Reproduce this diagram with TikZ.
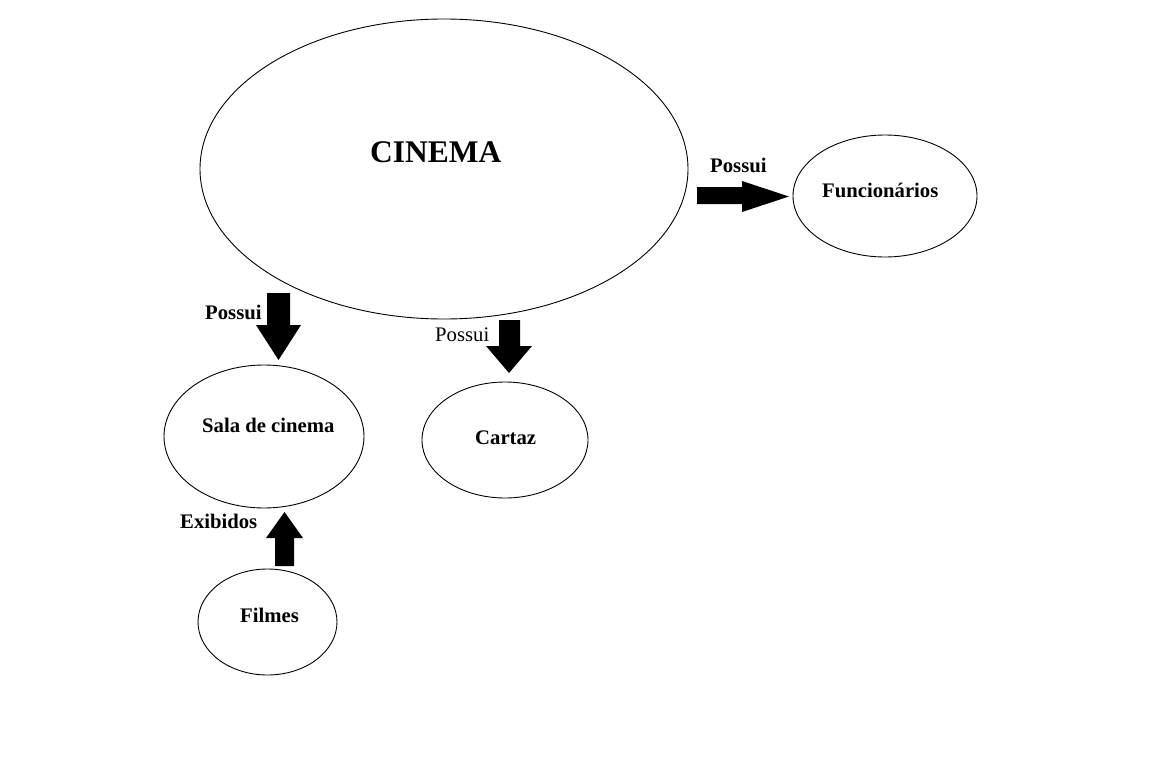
\documentclass[tikz,border=0pt]{standalone}
\usepackage{fontspec}
\setmainfont{Liberation Serif}
\usetikzlibrary{shapes.geometric}
\begin{document}
\begin{tikzpicture}[x=1pt,y=-1pt,
  oval/.style={draw=black,line width=0.9pt,ellipse,inner sep=0pt},
  lbl/.style={anchor=base west,inner sep=0pt,font=\fontsize{20.7}{24}\selectfont\bfseries},
  lblr/.style={anchor=base west,inner sep=0pt,font=\fontsize{20.7}{24}\selectfont},
  bigarrow/.style={fill=black}]
\useasboundingbox (0,0) rectangle (1160,784);
% ellipses
\node[oval,minimum width=488pt,minimum height=300pt] (cinema) at (444,169) {};
\node[oval,minimum width=184pt,minimum height=122pt] (func) at (885,196) {};
\node[oval,minimum width=200pt,minimum height=143pt] (sala) at (264,436.5) {};
\node[oval,minimum width=166pt,minimum height=116pt] (cartaz) at (505,440) {};
\node[oval,minimum width=139pt,minimum height=106pt] (filmes) at (267.5,622) {};
% texts
\node[anchor=base west,inner sep=0pt,font=\fontsize{31.5}{36}\selectfont\bfseries] (tcinema) at (370,162) {CINEMA};
\node[lbl] (tfunc) at (822,197) {Funcionários};
\node[lbl] (tsala) at (202,432) {Sala de cinema};
\node[lbl] (tcartaz) at (475,444) {Cartaz};
\node[lbl] (tfilmes) at (240,622) {Filmes};
\node[lbl] (tposs1) at (710,172) {Possui};
\node[lbl] (tposs2) at (205,319) {Possui};
\node[lblr] (tposs3) at (435,341) {Possui};
\node[lbl] (texib) at (180,528) {Exibidos};
% block arrows
\fill[bigarrow] (697,187) -- (742,187) -- (742,181) -- (789,196.5) -- (742,212) -- (742,204) -- (697,204) -- cycle;
\fill[bigarrow] (267,293) -- (290,293) -- (290,325) -- (301,325) -- (278.5,360) -- (256,325) -- (267,325) -- cycle;
\fill[bigarrow] (499,320) -- (520,320) -- (520,346) -- (532,346) -- (509,373) -- (486,346) -- (499,346) -- cycle;
\fill[bigarrow] (275,566) -- (294,566) -- (294,538) -- (303,538) -- (284.5,512) -- (266,538) -- (275,538) -- cycle;
\end{tikzpicture}
\end{document}
